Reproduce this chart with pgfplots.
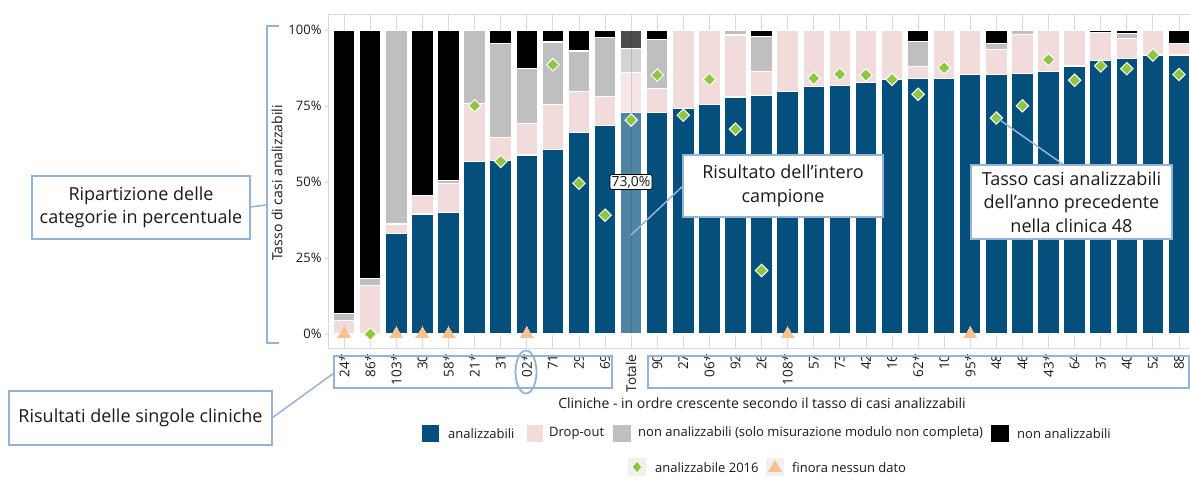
\documentclass[border=0pt]{standalone}
\usepackage{fontspec}
\setmainfont{Open Sans}
\usepackage{pgfplots}
\usepackage{pgfplotstable}
\pgfplotsset{compat=1.18}

\definecolor{cAna}{HTML}{054F7C}
\definecolor{cDrop}{HTML}{F2DCDB}
\definecolor{cGray}{HTML}{BFBFBF}
\definecolor{cBlack}{HTML}{000000}
\definecolor{tAna}{HTML}{5084A3}
\definecolor{tDrop}{HTML}{F6E7E6}
\definecolor{tGray}{HTML}{D3D3D3}
\definecolor{tBlack}{HTML}{4D4D4D}
\definecolor{cPrev}{HTML}{8DC63F}
\definecolor{cNone}{HTML}{FAC090}
\definecolor{cNote}{HTML}{95B3D7}
\definecolor{cGrid}{HTML}{D9D9D9}
\definecolor{cText}{HTML}{1A1A1A}

\newcommand\yticks{\fontsize{13bp}{15bp}\selectfont}
\newcommand\xticks{\fontsize{13.5bp}{16bp}\selectfont}
\newcommand\titles{\fontsize{14bp}{17bp}\selectfont}
\newcommand\leg{\fontsize{13bp}{15bp}\selectfont}
\newcommand\note{\fontsize{18bp}{23.5bp}\selectfont}

% share of cases per clinic (%): analyzable, drop-out, not analyzable (module), not analyzable
\pgfplotstableread{
idx lab    A    D    G    N
0   24*    0    4.4  2.4  93.2
1   86*    0    16.0 2.2  81.8
2   103*   33.1 3.1  63.8 0
3   30     39.5 6.2  0    54.3
4   58*    40.0 9.6  1.0  49.4
5   21*    56.7 19.2 24.1 0
6   31     57.2 7.5  30.9 4.4
7   02*    58.9 10.4 18.1 12.6
8   71     60.7 14.8 20.6 3.9
9   29     66.3 13.4 13.4 6.9
10  69     68.6 9.5  19.5 2.4
11  Totale 0    0    0    0
12  90     73.0 7.8  16.1 3.1
13  27     74.2 25.8 0    0
14  06*    75.6 24.4 0    0
15  92     78.0 20.4 1.6  0
16  26     78.6 7.7  11.5 2.2
17  108*   79.9 20.1 0    0
18  57     81.5 18.5 0    0
19  73     81.8 18.2 0    0
20  42     82.7 17.3 0    0
21  16     83.7 16.3 0    0
22  62*    84.0 3.9  8.3  3.8
23  10     84.1 15.9 0    0
24  95*    85.4 14.6 0    0
25  48     85.5 8.1  2.0  4.4
26  46     85.7 12.8 1.5  0
27  43*    86.5 13.5 0    0
28  64     88.2 11.8 0    0
29  37     90.1 9.2  0    0.7
30  40     90.7 6.6  1.6  1.1
31  52     91.8 8.2  0    0
32  88     91.8 3.8  0    4.4
}\clinics

% analyzable rate 2016
\pgfplotstableread{
idx prev
1   0
5   75.1
6   56.8
8   88.6
9   49.6
10  39.1
11  70.4
12  85.2
13  72.0
14  83.8
15  67.4
16  20.9
18  84.1
19  85.5
20  85.2
21  83.8
22  78.9
23  87.6
25  71.1
26  75.1
27  90.3
28  83.5
29  88.2
30  87.3
31  91.8
32  85.4
}\prevyear

\pgfplotsset{
  frame/.style={
    at={(328bp,132bp)}, anchor=south west,
    scale only axis, width=864bp, height=334bp,
    xmin=-0.62, xmax=32.5, ymin=-4.6, ymax=105.3,
    enlargelimits=false,
  },
  seg/.style={fill=#1, draw=white, line width=1.2bp},
}

\begin{document}
\begin{tikzpicture}
\useasboundingbox (0,0) rectangle (1190bp,480bp);

\begin{axis}[
  frame,
  ybar stacked, bar width=0.83,
  xtick={0,...,32},
  xticklabels from table={\clinics}{lab},
  xticklabel style={rotate=90, anchor=east, font=\xticks, text=cText},
  xtick style={draw=none},
  ytick={0,25,50,75,100},
  yticklabels={0\%,25\%,50\%,75\%,100\%},
  yticklabel style={font=\yticks, text=cText},
  ytick style={draw=cGrid},
  tick align=outside, major tick length=3bp,
  xmajorgrids, grid style={cGrid, line width=0.8bp},
  axis line style={cGrid},
]
\addplot[seg=cAna]   table[x=idx, y=A] {\clinics};
\addplot[seg=cDrop]  table[x=idx, y=D] {\clinics};
\addplot[seg=cGray]  table[x=idx, y=G] {\clinics};
\addplot[seg=cBlack] table[x=idx, y=N] {\clinics};
\end{axis}

% whole sample bar (lighter) and markers
\begin{axis}[frame, hide axis, clip=false]
\addplot[ybar, bar width=0.83, bar shift=0pt, seg=tBlack] coordinates {(11,100)};
\addplot[ybar, bar width=0.83, bar shift=0pt, seg=tGray]  coordinates {(11,93.9)};
\addplot[ybar, bar width=0.83, bar shift=0pt, seg=tDrop]  coordinates {(11,86.0)};
\addplot[ybar, bar width=0.83, bar shift=0pt, seg=tAna]   coordinates {(11,73.0)};
\draw[black, opacity=0.12, line width=0.8bp] (axis cs:11,0) -- (axis cs:11,100);
\addplot[only marks, mark=square*, mark size=4.4bp,
  mark options={rotate=45, fill=cPrev, draw=white, line width=1bp}]
  table[x=idx, y=prev] {\prevyear};
\addplot[only marks, color=cNone, mark=triangle*, mark size=7.5bp,
  mark options={fill=cNone, draw=cNone, line width=0pt}]
  coordinates {(0,0) (2,0) (3,0) (4,0) (7,0) (17,0) (24,0)};
\end{axis}

\begin{scope}[x=1bp, y=-1bp, yshift=480bp]
% axis titles
\node[rotate=90, font=\titles, text=cText] at (277,183) {Tasso di casi analizzabili};
\node[font=\titles, text=cText] at (762,403) {Cliniche - in ordre crescente secondo il tasso di casi analizzabili};

% annotations
\draw[cNote, line width=1.8bp] (279,26) -- (267,26) -- (267,343) -- (279,343);
\draw[cNote, line width=1.5bp] (250,207) -- (267,205);
\draw[cNote, line width=1.8bp, fill=white] (32,176) rectangle (250,239);
\node[font=\note, align=center, text=cText] at (141,207.5) {Ripartizione delle\\categorie in percentuale};

\draw[cNote, line width=1.8bp] (334,356) rectangle (612,388);
\draw[cNote, line width=1.8bp] (648,356) rectangle (1189,388);
\draw[cNote, line width=1.8bp] (526,372) ellipse [x radius=10.5, y radius=21.5];
\draw[cNote, line width=1.5bp] (272,418) -- (334,373);
\draw[cNote, line width=1.8bp, fill=white] (9,391) rectangle (272,445);
\node[font=\note, text=cText] at (140.5,418) {Risultati delle singole cliniche};

\node[draw=black, rounded corners=2bp, fill=white, inner sep=1.5bp, line width=0.6bp,
  font=\titles, text=cText] at (631,182) {73,0\%};
\draw[cNote, line width=1.5bp] (631,235) -- (685,184);
\draw[cNote, line width=1.8bp, fill=white] (683,155) rectangle (883,217);
\node[font=\note, align=center, text=cText] at (783,186) {Risultato dell’intero\\campione};

\draw[cNote, line width=1.5bp] (997,118) -- (1064,165);
\draw[cNote, line width=1.8bp, fill=white] (971,165) rectangle (1172,239);
\node[font=\note, align=center, text=cText] at (1071.5,202) {Tasso casi analizzabili\\dell’anno precedente\\nella clinica 48};

% legend
\fill[cAna]   (422,425) rectangle (439,442);
\node[font=\leg, text=cText, anchor=west, inner sep=0pt] at (448,433.5) {analizzabili};
\fill[cDrop]  (527,425) rectangle (543,442);
\node[font=\leg, text=cText, anchor=west, inner sep=0pt] at (549,433.5) {Drop-out};
\fill[cGray]  (613,425) rectangle (631,442);
\node[font=\leg, text=cText, anchor=west, inner sep=0pt] at (638,433.5) {non analizzabili (solo misurazione modulo non completa)};
\fill[cBlack] (991,425) rectangle (1009,442);
\node[font=\leg, text=cText, anchor=west, inner sep=0pt] at (1017,433.5) {non analizzabili};

\fill[black!6] (628,458) rectangle (646,476);
\fill[cPrev, draw=white, line width=0.8bp] (637,461) -- (642,467) -- (637,473) -- (632,467) -- cycle;
\node[font=\leg, text=cText, anchor=west, inner sep=0pt] at (655,467.5) {analizzabile 2016};
\fill[black!6] (766,458) rectangle (784,476);
\fill[cNone] (775,460) -- (782,472) -- (768,472) -- cycle;
\node[font=\leg, text=cText, anchor=west, inner sep=0pt] at (792,467.5) {finora nessun dato};
\end{scope}
\end{tikzpicture}
\end{document}
